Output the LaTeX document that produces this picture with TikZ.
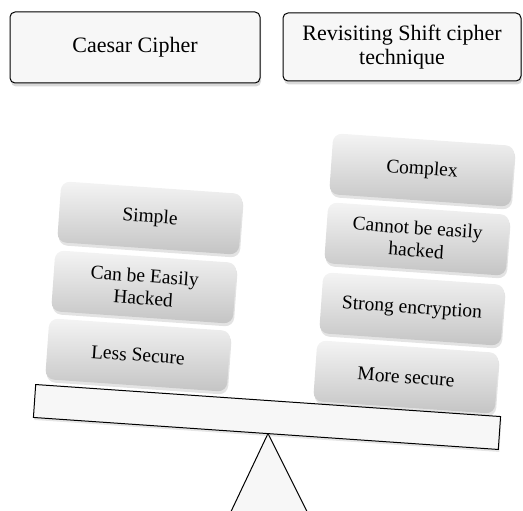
\documentclass[tikz,border=0pt]{standalone}
\usepackage{fontspec}
\setmainfont{Liberation Serif}
\usetikzlibrary{shadows}
\definecolor{boxfill}{HTML}{F7F7F7}
\definecolor{blocktop}{HTML}{F4F4F4}
\definecolor{blockbot}{HTML}{C4C4C4}
\begin{document}
\begin{tikzpicture}[x=1pt,y=-1pt,
  titlebox/.style={draw=black, line width=1pt, fill=boxfill, rounded corners=5pt,
    align=center, inner sep=0pt, font=\fontsize{22}{24.5}\selectfont,
    drop shadow={opacity=0.3, shadow xshift=1pt, shadow yshift=-3.5pt}},
  block/.style={rotate=-4, rectangle, rounded corners=9pt, minimum width=182pt,
    minimum height=61pt, inner sep=0pt, align=center, top color=blocktop,
    bottom color=blockbot, font=\fontsize{19.5}{22.5}\selectfont,
    drop shadow={opacity=0.22, shadow xshift=1pt, shadow yshift=-3pt}},
  beamstyle/.style={draw=black, line width=1pt, fill=boxfill, rotate=-3.94,
    minimum width=466pt, minimum height=33pt, inner sep=0pt,
    drop shadow={opacity=0.2, shadow xshift=1pt, shadow yshift=-2.5pt}},
  fulcrum/.style={draw=black, line width=1pt, fill=boxfill}]
\useasboundingbox (0,0) rectangle (523,511);
\clip (0,0) rectangle (523,511);
% title boxes
\node[titlebox, minimum width=250pt, minimum height=71pt] (caesar) at (135,47.5) {Caesar Cipher};
\node[titlebox, minimum width=238pt, minimum height=68pt] (shift) at (402,47) {Revisiting Shift cipher\\technique};
% left stack
\node[block] (simple) at (150,218) {Simple};
\node[block] (easy) at (144,287) {Can be Easily\\Hacked};
\node[block] (less) at (138,355) {Less Secure};
% right stack
\node[block] (complex) at (422,170) {Complex};
\node[block] (cannot) at (417,239) {Cannot be easily\\hacked};
\node[block] (strong) at (412,309) {Strong encryption};
\node[block] (more) at (406,377) {More secure};
% seesaw: fulcrum first, then the beam on top
\coordinate (apex) at (268,433.5);
\draw[fulcrum] (apex) -- ++(-47.4,100) -- ++(97.4,0) -- cycle;
\node[beamstyle] (beam) at (267,417) {};
\end{tikzpicture}
\end{document}
